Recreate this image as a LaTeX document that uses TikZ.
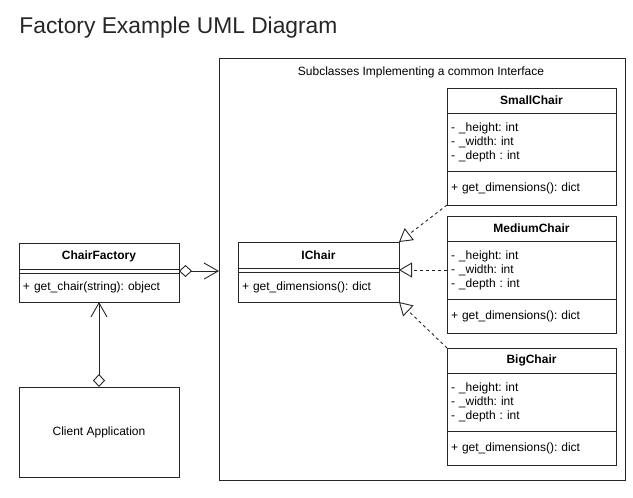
\documentclass[tikz,border=0pt]{standalone}
\usepackage{fontspec}
\setmainfont{Liberation Sans}
\usetikzlibrary{positioning,arrows.meta}
\frenchspacing

\begin{document}
\begin{tikzpicture}[x=1pt,y=-1pt,line width=0.9pt,draw=black!85,
    head/.style={draw,outer sep=0pt,inner xsep=4pt,inner ysep=0pt,text width=#1,align=center,font=\fontsize{12}{14}\selectfont\bfseries},
    part/.style={draw,outer sep=0pt,inner xsep=4pt,inner ysep=0pt,text width=#1,align=left,font=\fontsize{12}{14}\selectfont},
    gap/.style={draw,outer sep=0pt,inner sep=0pt,minimum width=#1,minimum height=4pt},
    real/.style={dash pattern=on 3pt off 3pt,-{Triangle[fill=white,length=13pt,width=15pt]}},
    agg/.style={{Diamond[open,length=13pt,width=12pt]}-{Straight Barb[length=14pt,width=16pt]}}]
  \useasboundingbox (0,0) rectangle (633,498);
  \node[anchor=base west,inner sep=0pt,text=black!85,font=\fontsize{22.8}{27}\selectfont] (title) at (19,33) {Factory Example UML Diagram};

  % subclasses
  \node[draw,outer sep=0pt,inner sep=0pt,anchor=north west,minimum width=406pt,minimum height=422pt] (subs) at (219,58) {};
  \node[font=\fontsize{12}{14}\selectfont] (subs-l) at (421,72) {Subclasses Implementing a common Interface};

  \node[head=161pt,minimum height=25pt,anchor=north west] (sc) at (447,88) {SmallChair};
  \node[part=161pt,minimum height=58pt,below=0pt of sc] (sc-a) {- \_height: int\\- \_width: int\\- \_depth : int};
  \node[part=161pt,minimum height=34pt,below=0pt of sc-a] (sc-m) {+ get\_dimensions(): dict};

  \node[head=161pt,minimum height=25pt,anchor=north west] (mc) at (447,216) {MediumChair};
  \node[part=161pt,minimum height=58pt,below=0pt of mc] (mc-a) {- \_height: int\\- \_width: int\\- \_depth : int};
  \node[part=161pt,minimum height=34pt,below=0pt of mc-a] (mc-m) {+ get\_dimensions(): dict};

  \node[head=161pt,minimum height=25pt,anchor=north west] (bc) at (447,348) {BigChair};
  \node[part=161pt,minimum height=58pt,below=0pt of bc] (bc-a) {- \_height: int\\- \_width: int\\- \_depth : int};
  \node[part=161pt,minimum height=34pt,below=0pt of bc-a] (bc-m) {+ get\_dimensions(): dict};

  % interface
  \node[head=153pt,minimum height=26pt,anchor=north west] (ic) at (238,242) {IChair};
  \node[gap=161pt,below=0pt of ic] (ic-s) {};
  \node[part=153pt,minimum height=30pt,below=0pt of ic-s] (ic-m) {+ get\_dimensions(): dict};

  % factory and client
  \node[head=152pt,minimum height=26pt,anchor=north west] (cf) at (19,243) {ChairFactory};
  \node[gap=160pt,below=0pt of cf] (cf-s) {};
  \node[part=152pt,minimum height=29pt,below=0pt of cf-s] (cf-m) {+ get\_chair(string): object};
  \node[draw,outer sep=0pt,minimum width=160pt,minimum height=90pt,anchor=north west,font=\fontsize{12}{14}\selectfont] (client) at (19,387) {Client Application};

  \draw[real] (sc-m.south west) -- (ic.north east);
  \draw[real] (mc-a.west) -- (ic-s.east);
  \draw[real] (bc.north west) -- (ic-m.south east);
  \draw[agg] (cf-s.east) -- (cf-s.east -| subs.west);
  \draw[agg] (client.north) -- (cf-m.south);
\end{tikzpicture}
\end{document}
